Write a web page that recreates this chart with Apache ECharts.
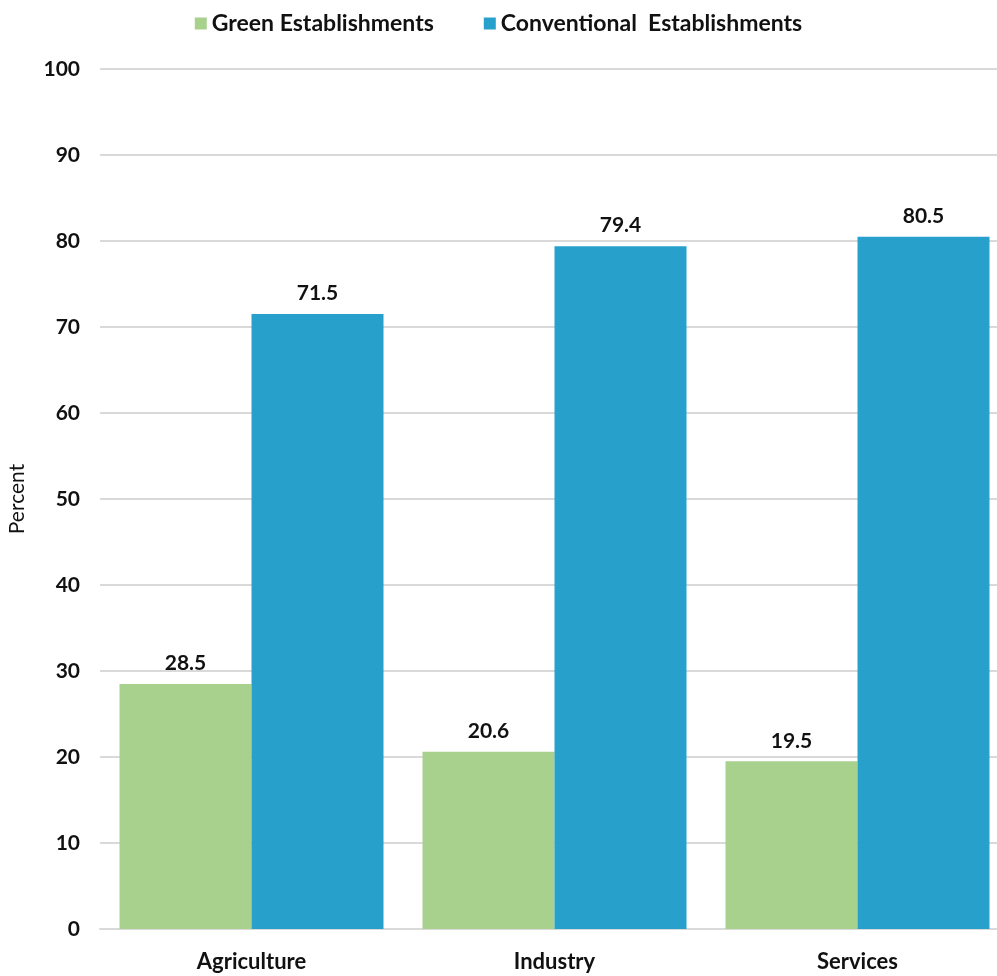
<!DOCTYPE html>
<html>
<head>
<meta charset="utf-8">
<script src="https://cdn.jsdelivr.net/npm/echarts@6/dist/echarts.min.js"></script>
<style>
  html, body { margin: 0; padding: 0; background: #fff; }
  #chart { width: 997px; height: 976px; }
</style>
</head>
<body>
<div id="chart"></div>
<script>
const categories = ['Agriculture', 'Industry', 'Services']
const greenValues = [28.5, 20.6, 19.5]
const conventionalValues = [71.5, 79.4, 80.5]
const seriesNames = ['Green Establishments', 'Conventional  Establishments']

const font = 'Lato, "Open Sans", sans-serif'
const chart = echarts.init(document.getElementById('chart'))

const labelStyle = {
  show: true,
  position: 'top',
  distance: 10,
  color: '#111',
  fontFamily: font,
  fontWeight: 'bold',
  fontSize: 21,
}

chart.setOption({
  animation: false,
  textStyle: { fontFamily: font },
  legend: {
    top: 7,
    left: 'center',
    itemWidth: 12,
    itemHeight: 12,
    itemGap: 50,
    icon: 'rect',
    textStyle: { color: '#111', fontSize: 23, fontWeight: 'bold', fontFamily: font },
    data: seriesNames,
  },
  grid: { left: 100, top: 69, width: 909, height: 860, containLabel: false, outerBoundsMode: 'none' },
  xAxis: {
    type: 'category',
    data: categories,
    axisTick: { show: false },
    axisLine: { lineStyle: { color: '#d9d9d9', width: 2 } },
    axisLabel: { color: '#111', fontSize: 22, fontWeight: 'bold', margin: 22, fontFamily: font },
  },
  yAxis: {
    type: 'value',
    min: 0,
    max: 100,
    interval: 10,
    name: 'Percent',
    nameLocation: 'middle',
    nameGap: 72,
    nameTextStyle: { color: '#111', fontSize: 21, fontFamily: font },
    axisLine: { show: false },
    axisTick: { show: false },
    axisLabel: { color: '#111', fontSize: 21, fontWeight: 'bold', margin: 20, fontFamily: font },
    splitLine: { lineStyle: { color: '#d9d9d9', width: 2 } },
  },
  series: [
    {
      name: seriesNames[0],
      type: 'bar',
      data: greenValues,
      barWidth: 132,
      barGap: '0%',
      itemStyle: { color: '#a9d18e' },
      label: labelStyle,
    },
    {
      name: seriesNames[1],
      type: 'bar',
      data: conventionalValues,
      barWidth: 132,
      barGap: '0%',
      itemStyle: { color: '#28a0cc' },
      label: labelStyle,
    },
  ],
})
</script>
</body>
</html>
